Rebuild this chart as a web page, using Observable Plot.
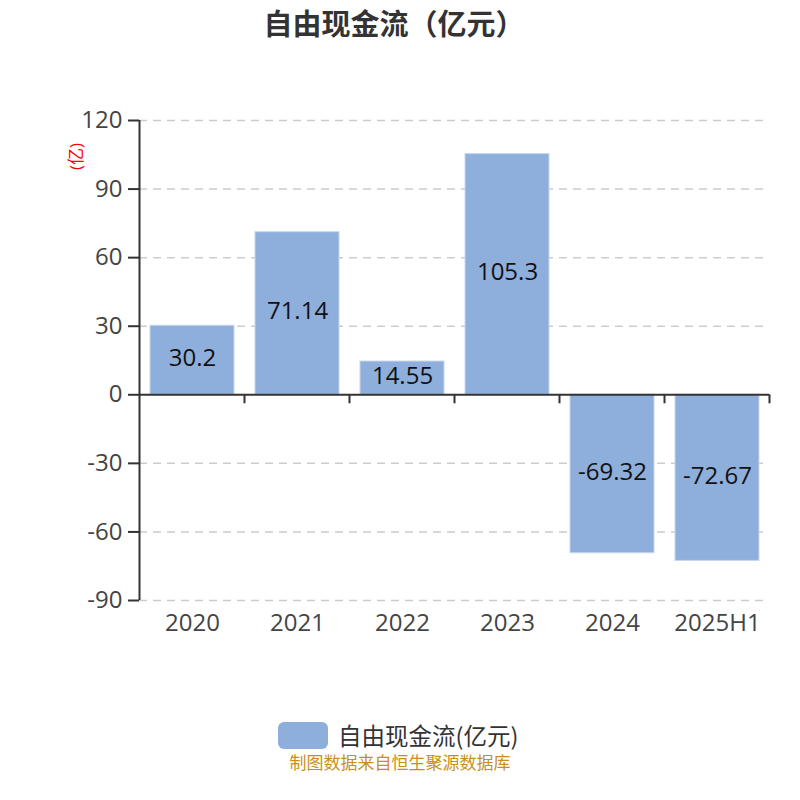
<!DOCTYPE html>
<html><head><meta charset="utf-8">
<script src="https://cdn.jsdelivr.net/npm/d3@7"></script>
<script src="https://cdn.jsdelivr.net/npm/@observablehq/plot@0.6"></script>
<style>
body{margin:0;background:#fff;font-family:"Noto Sans CJK SC","Open Sans",sans-serif;}
#wrap{position:relative;width:800px;height:800px;}
#title{position:absolute;top:0;left:0;width:788px;height:44px;line-height:44px;text-align:center;font-size:29px;font-weight:bold;color:#333;}
#chart{position:absolute;top:0;left:0;}
#legend{position:absolute;top:718px;left:278px;display:flex;align-items:center;font-size:23.5px;color:#333;}
#legend .sw{width:50px;height:27px;border-radius:6px;background:#8eaedb;margin-right:10px;}
#footer{position:absolute;top:749px;left:0;width:800px;text-align:center;font-size:17px;color:#c8901a;}
</style></head>
<body>
<div id="wrap">
<div id="title">自由现金流（亿元）</div>
<div id="chart"></div>
<div id="legend"><div class="sw"></div><span>自由现金流(亿元)</span></div>
<div id="footer">制图数据来自恒生聚源数据库</div>
</div>
<script>
const years = ["2020","2021","2022","2023","2024","2025H1"];
const values = [30.2, 71.14, 14.55, 105.3, -69.32, -72.67];
const yTicks = [120, 90, 60, 30, 0, -30, -60, -90];
const yUnit = "(亿)";
const data = years.map((y,i)=>({year:y, value:values[i]}));

const chart = Plot.plot({
  width: 800, height: 680,
  marginTop: 120, marginBottom: 80, marginLeft: 139, marginRight: 31,
  style: {fontFamily: "'Open Sans','Noto Sans CJK SC',sans-serif", fontSize: "24px", background: "transparent", overflow: "visible"},
  x: {domain: years, paddingInner: 0.2, paddingOuter: 0.1},
  y: {domain: [-90, 120], ticks: yTicks},
  marks: [
    Plot.gridY(yTicks.filter(t=>t!==0), {stroke: "#ccc", strokeOpacity: 1, strokeDasharray: "8,6", strokeWidth: 1.5}),
    Plot.barY(data, {x: "year", y: "value", fill: "#8eaedb", stroke: "#c5d6ee", strokeWidth: 1}),
    Plot.text(data, {x: "year", y: d=>d.value/2, text: d=>String(d.value), fontSize: 24, dy: -2, fill: "#111"}),
    Plot.axisY(yTicks, {tickSize: 11, tickPadding: 6, tickFormat: d=>String(d), color: "#444", stroke: "#333", strokeWidth: 2, label: null}),
    Plot.ruleY([0], {stroke: "#333", strokeWidth: 2}),
    Plot.axisX({tickSize: 0, tickPadding: 13, color: "#444", label: null})
  ]
});
document.getElementById("chart").appendChild(chart);

const svg = d3.select(chart);
svg.selectAll('g[aria-label$="tick label"] text').style("font-size", "24px");
svg.selectAll('g[aria-label$="tick label"]').style("font-size", "24px");

// left axis line and band boundary ticks at y=0, computed from Plot's scales
const xs = chart.scale("x"), ys = chart.scale("y");
const step = xs.step, bw = xs.bandwidth;
const y0 = ys.apply(0);
const boundaries = years.map(y => xs.apply(y) - (step - bw)/2);
boundaries.push(xs.apply(years[years.length-1]) + bw + (step - bw)/2);
svg.append("line").attr("x1", boundaries[0]).attr("x2", boundaries[0])
  .attr("y1", ys.apply(120)).attr("y2", ys.apply(-90)).attr("stroke","#333").attr("stroke-width",2);
boundaries.slice(1).forEach(bx=>{
  svg.append("line").attr("x1", bx).attr("x2", bx).attr("y1", y0).attr("y2", y0+9)
    .attr("stroke","#333").attr("stroke-width",2);
});
svg.append("text").attr("transform", `translate(77,${ys.apply(104)}) rotate(-90)`)
  .attr("text-anchor","middle").attr("dominant-baseline","middle").attr("fill","red")
  .attr("font-size",17).text(yUnit);
</script>
</body></html>
